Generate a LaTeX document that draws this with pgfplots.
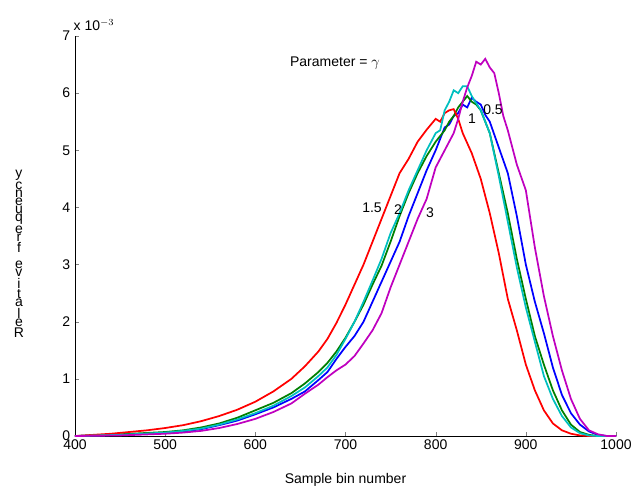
\documentclass[border=0pt]{standalone}
\usepackage{fontspec}
\setmainfont{Liberation Sans}
\usepackage{pgfplots}
\pgfplotsset{compat=1.18}
\definecolor{mred}{rgb}{1,0,0}
\definecolor{mgreen}{rgb}{0,0.5,0}
\definecolor{mblue}{rgb}{0,0,1}
\definecolor{mcyan}{rgb}{0,0.75,0.75}
\definecolor{mmag}{rgb}{0.75,0,0.75}
\begin{document}
\begin{tikzpicture}
\begin{axis}[
  scale only axis, width=405.75pt, height=300pt,
  xmin=400, xmax=1000, ymin=0, ymax=7,
  axis x line=bottom, axis y line=left, axis line style={-, black},
  tick align=inside, major tick length=3pt,
  xtick={400,500,...,1000}, ytick={0,1,...,7},
  /pgf/number format/assume math mode=true,
  /pgf/number format/1000 sep={},
  tick label style={font=\fontsize{10.5}{12}\selectfont},
  xticklabel style={yshift=1pt},
  xlabel={Sample bin number},
  xlabel style={font=\fontsize{10.5}{12}\selectfont, yshift=-11pt},
  every axis plot/.append style={line width=1.3pt},
  clip=false,
]
\addplot[mblue] coordinates {
(400,0) (450,0.02) (500,0.05) (520,0.08) (540,0.12) (560,0.19) (580,0.27)
(600,0.38) (620,0.5) (640,0.65) (655,0.78) (670,0.98) (680,1.12) (690,1.35)
(700,1.56) (710,1.75) (720,2.0) (730,2.35) (740,2.7) (750,3.05) (760,3.4)
(770,3.85) (780,4.25) (790,4.65) (800,5.0) (810,5.4) (815,5.45) (820,5.6)
(825,5.65) (830,5.8) (835,5.75) (840,5.92) (845,5.85) (850,5.8) (855,5.62)
(860,5.5) (870,5.05) (880,4.6) (890,3.85) (900,3.0) (910,2.35) (920,1.8)
(930,1.2) (940,0.72) (950,0.4) (960,0.2) (970,0.08) (980,0.02) (990,0) (1000,0)};
\addplot[mgreen] coordinates {
(400,0) (450,0.03) (500,0.07) (520,0.1) (540,0.15) (560,0.22) (580,0.32)
(600,0.45) (620,0.58) (640,0.75) (655,0.92) (670,1.12) (680,1.28) (690,1.48)
(700,1.72) (710,2.0) (720,2.3) (730,2.65) (740,2.98) (750,3.4) (760,3.85)
(770,4.25) (780,4.6) (790,4.9) (800,5.15) (810,5.35) (815,5.5) (820,5.6)
(825,5.75) (830,5.85) (835,5.95) (840,5.85) (845,5.8) (850,5.7) (860,5.3)
(870,4.6) (880,3.9) (890,3.1) (900,2.4) (910,1.75) (920,1.25) (930,0.8)
(940,0.45) (950,0.2) (960,0.07) (970,0.02) (980,0) (1000,0)};
\addplot[mred] coordinates {
(400,0) (420,0.02) (440,0.04) (460,0.07) (480,0.1) (500,0.14) (520,0.19)
(540,0.26) (560,0.35) (580,0.46) (600,0.6) (620,0.78) (640,1.0) (655,1.22)
(670,1.48) (680,1.7) (690,1.98) (700,2.3) (710,2.65) (720,3.0) (730,3.4)
(740,3.8) (750,4.2) (760,4.6) (770,4.85) (780,5.15) (790,5.36) (800,5.55)
(805,5.5) (810,5.65) (815,5.7) (820,5.72) (825,5.55) (830,5.3) (840,4.95)
(850,4.5) (860,3.9) (870,3.2) (880,2.4) (890,1.85) (900,1.25) (910,0.8)
(920,0.45) (930,0.22) (940,0.1) (950,0.04) (960,0.01) (970,0) (1000,0)};
\addplot[mcyan] coordinates {
(400,0) (450,0.02) (500,0.06) (520,0.09) (540,0.13) (560,0.2) (580,0.29)
(600,0.4) (620,0.53) (640,0.7) (655,0.85) (670,1.05) (680,1.2) (690,1.42)
(700,1.7) (710,2.0) (720,2.35) (730,2.72) (740,3.1) (750,3.55) (760,3.9)
(770,4.3) (780,4.65) (790,5.0) (800,5.3) (805,5.35) (810,5.7) (815,5.85)
(820,6.05) (825,6.0) (830,6.12) (835,6.12) (840,5.95) (850,5.7) (860,5.3)
(870,4.55) (880,3.75) (890,2.95) (900,2.25) (910,1.65) (920,1.05) (930,0.65)
(940,0.35) (950,0.15) (960,0.05) (970,0.01) (980,0) (1000,0)};
\addplot[mmag] coordinates {
(400,0) (450,0.01) (500,0.04) (520,0.06) (540,0.09) (560,0.14) (580,0.21)
(600,0.3) (620,0.42) (640,0.57) (655,0.74) (670,0.9) (680,1.03) (690,1.15)
(700,1.25) (710,1.4) (720,1.62) (730,1.85) (740,2.15) (750,2.6) (760,3.0)
(770,3.4) (780,3.8) (790,4.15) (800,4.7) (810,5.0) (820,5.3) (825,5.55)
(830,5.85) (835,6.1) (840,6.3) (845,6.55) (850,6.5) (855,6.6) (860,6.45)
(865,6.35) (870,6.0) (875,5.6) (880,5.35) (890,4.75) (900,4.3) (910,3.3)
(920,2.45) (930,1.75) (940,1.15) (950,0.65) (960,0.3) (970,0.1) (980,0.03)
(990,0) (1000,0)};
\begin{scope}[font=\fontsize{10.5}{12}\selectfont]
\node at (axis cs:729.4,3.99) {1.5};
\node at (axis cs:758.2,3.97) {2};
\node at (axis cs:793.7,3.90) {3};
\node at (axis cs:840.3,5.55) {1};
\node at (axis cs:863.6,5.71) {0.5};
\node at (axis cs:688.3,6.53) {Parameter = $\gamma$};
\node[anchor=south west, inner sep=0pt] at (rel axis cs:-0.003,1.012) {x 10$^{-3}$};
\node[align=center, inner sep=0pt, font=\fontsize{10.5}{6}\selectfont]
  at (rel axis cs:-0.1035,0.455) {y\\c\\n\\e\\u\\q\\e\\r\\f\\ \\e\\v\\i\\t\\a\\l\\e\\R};
\end{scope}
\coordinate (bl) at (rel axis cs:-0.1386,-0.1225);
\coordinate (tr) at (rel axis cs:1.0314,1.09);
\end{axis}
\pgfresetboundingbox
\path[use as bounding box] (bl) rectangle (tr);
\end{tikzpicture}
\end{document}
